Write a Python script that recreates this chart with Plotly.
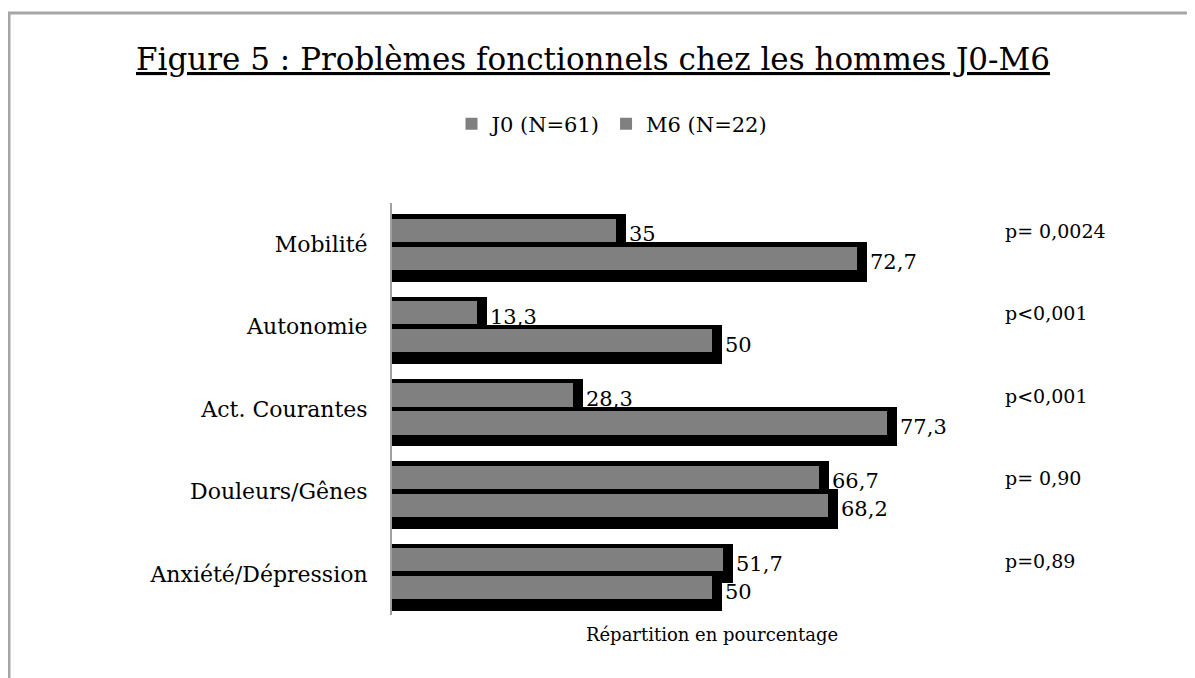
import plotly.graph_objects as go

categories = ["Mobilité", "Autonomie", "Act. Courantes", "Douleurs/Gênes", "Anxiété/Dépression"]
j0_values = [35, 13.3, 28.3, 66.7, 51.7]
m6_values = [72.7, 50, 77.3, 68.2, 50]
p_values = ["p= 0,0024", "p<0,001", "p<0,001", "p= 0,90", "p=0,89"]
series_names = ["J0 (N=61)", "M6 (N=22)"]

FONT = "DejaVu Serif"
GREY = "#808080"
BAR_H = 0.28
SHADOW_H = 0.48
SHADOW_DY = 0.045
SHADOW_DX = 1.56
OFF = 0.17

def fmt(v):
    return ("%g" % v).replace(".", ",")

# page body has an 8px margin; screenshot coords = figure coords + 8
PAGE = 8
W, H = 1195, 678
L, R, T, B = 392 - PAGE, W - (1032 - PAGE), 203 - PAGE, H - (615 - PAGE)
pw, ph = W - L - R, H - T - B

def sx(px):  # screenshot x -> paper
    return (px - PAGE - L) / pw

def sy(py):  # screenshot y -> paper
    return (H - B - (py - PAGE)) / ph

idx = list(range(len(categories)))
fig = go.Figure()

for k, (vals, sign) in enumerate([(j0_values, -1), (m6_values, 1)]):
    fig.add_trace(go.Bar(
        y=[i + sign * OFF + SHADOW_DY for i in idx],
        x=[v + SHADOW_DX for v in vals],
        orientation="h", width=SHADOW_H,
        marker=dict(color="black", line=dict(width=0)),
        text=[fmt(v) for v in vals], textposition="outside", constraintext="none",
        textfont=dict(family=FONT, size=21, color="black"),
        cliponaxis=False, showlegend=False, hoverinfo="skip",
    ))
    fig.add_trace(go.Bar(
        y=[i + sign * OFF for i in idx],
        x=vals,
        orientation="h", width=BAR_H,
        marker=dict(color=GREY, line=dict(width=0)),
        name=series_names[k], showlegend=True,
    ))

for i, p in zip(idx, p_values):
    fig.add_annotation(x=95.5, y=i - 0.16, xref="x", yref="y", text=p,
                       showarrow=False, xanchor="left", yanchor="middle",
                       font=dict(family=FONT, size=19, color="black"))

fig.add_annotation(x=sx(593), y=sy(59), xref="paper", yref="paper",
                   xanchor="center", yanchor="middle",
                   text="<u>Figure 5 : Problèmes fonctionnels chez les hommes J0-M6</u>",
                   showarrow=False, font=dict(family=FONT, size=31, color="black"))

fig.add_shape(type="rect", xref="paper", yref="paper",
              x0=sx(9), x1=sx(1220), y0=sy(700), y1=sy(13),
              line=dict(color="#a6a6a6", width=3), fillcolor="rgba(0,0,0,0)", layer="below")

fig.update_layout(
    width=W, height=H,
    margin=dict(l=L, r=R, t=T, b=B),
    paper_bgcolor="white", plot_bgcolor="white",
    barmode="overlay", bargap=0,
    font=dict(family=FONT, color="black"),
    legend=dict(orientation="h", x=sx(612), xanchor="center",
                y=sy(124), yanchor="middle",
                font=dict(family=FONT, size=21, color="black"),
                itemwidth=30, traceorder="normal", bgcolor="rgba(0,0,0,0)"),
    showlegend=True,
)
fig.update_xaxes(range=[0, 100], showgrid=False, zeroline=False, showline=False,
                 showticklabels=False, ticks="",
                 title=dict(text="Répartition en pourcentage", standoff=13,
                            font=dict(family=FONT, size=18, color="black")))
fig.update_yaxes(range=[4.5, -0.5], tickmode="array", tickvals=idx, ticktext=categories,
                 showgrid=False, zeroline=False, showline=True, linecolor="#a0a0a0", linewidth=2,
                 ticks="", ticklabelstandoff=18,
                 tickfont=dict(family=FONT, size=22, color="black"))

fig.write_html("out.html")
